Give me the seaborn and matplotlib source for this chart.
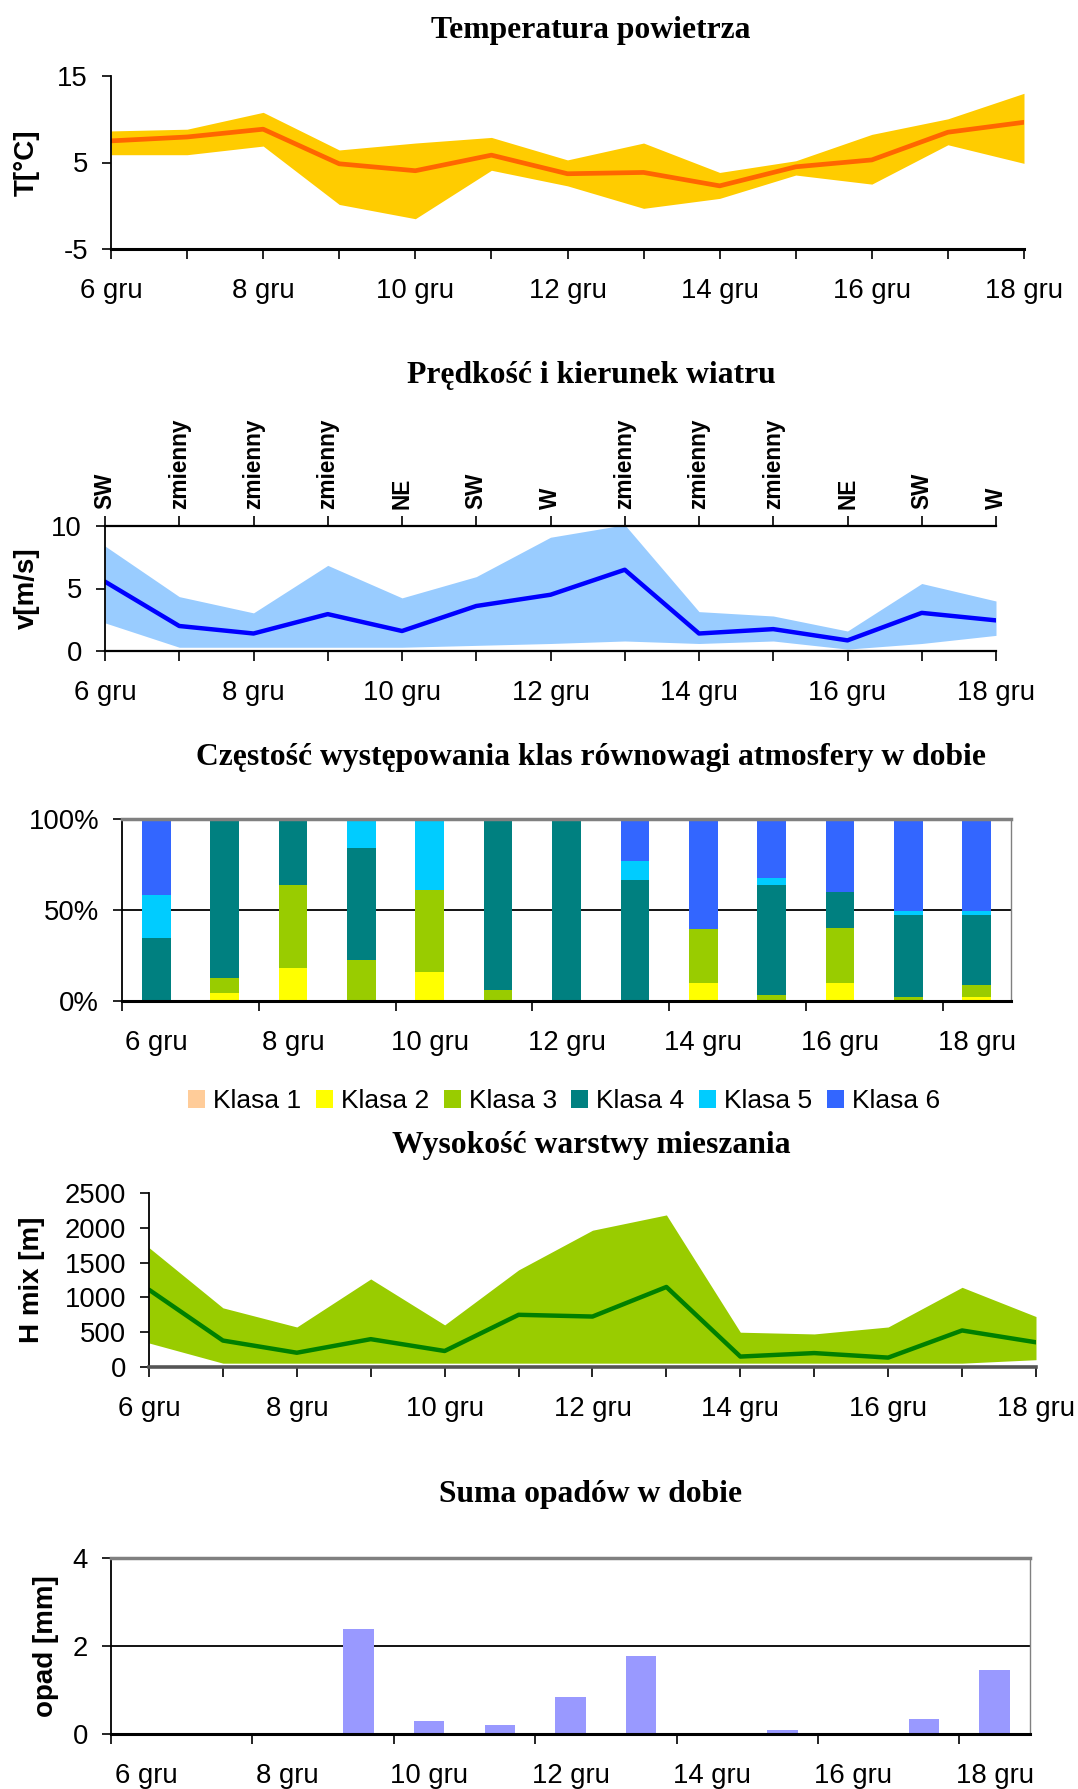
import numpy as np
import matplotlib
matplotlib.use("Agg")
import matplotlib.pyplot as plt
import matplotlib.transforms as mtrans
import seaborn as sns
from matplotlib.patches import Patch

# dane: 6-18 grudnia
days = list(range(6, 19))
day_labels = [f"{d} gru" for d in days]

temp_mean = [7.5, 7.95, 8.85, 4.85, 4.05, 5.85, 3.7, 3.85, 2.3, 4.5, 5.3, 8.5, 9.65]
temp_max = [8.65, 8.85, 10.8, 6.45, 7.25, 7.9, 5.3, 7.25, 3.85, 5.2, 8.25, 10.05, 13.0]
temp_min = [5.9, 5.9, 6.9, 0.15, -1.5, 4.1, 2.3, -0.3, 0.85, 3.55, 2.5, 7.05, 4.9]

wind_mean = [5.55, 2.0, 1.4, 2.95, 1.6, 3.6, 4.5, 6.5, 1.4, 1.75, 0.85, 3.05, 2.45]
wind_max = [8.4, 4.35, 3.05, 6.85, 4.25, 5.95, 9.1, 10.1, 3.15, 2.8, 1.6, 5.4, 4.0]
wind_min = [2.25, 0.3, 0.3, 0.3, 0.3, 0.45, 0.6, 0.8, 0.6, 0.8, 0.15, 0.6, 1.25]
wind_dir = ["SW", "zmienny", "zmienny", "zmienny", "NE", "SW", "W",
            "zmienny", "zmienny", "zmienny", "NE", "SW", "W"]

klasy = ["Klasa 1", "Klasa 2", "Klasa 3", "Klasa 4", "Klasa 5", "Klasa 6"]
klasa1 = [0, 0, 0, 0, 0, 0, 0, 0, 0, 0, 0, 0, 0]
klasa2 = [0, 4.2, 18.4, 0, 15.8, 0, 0, 0, 10.1, 0, 10.1, 0, 2.4]
klasa3 = [0, 8.5, 45.3, 22.8, 45.3, 6.3, 0, 0, 29.3, 3.5, 29.9, 2.4, 6.6]
klasa4 = [34.5, 87.3, 36.3, 61.4, 0, 93.7, 100, 66.5, 0, 60.2, 19.9, 44.7, 38.1]
klasa5 = [23.5, 0, 0, 15.8, 38.9, 0, 0, 10.5, 0, 4.1, 0, 2.6, 2.6]
klasa6 = [42, 0, 0, 0, 0, 0, 0, 23, 60.6, 32.2, 40.1, 50.3, 50.3]

hmix_mean = [1110, 380, 205, 400, 230, 750, 725, 1150, 150, 200, 135, 525, 355]
hmix_max = [1715, 850, 575, 1265, 605, 1395, 1965, 2185, 500, 475, 575, 1145, 725]
hmix_min = [345, 55, 55, 55, 55, 55, 55, 55, 55, 55, 55, 55, 105]

opad = [0, 0, 0, 2.38, 0.30, 0.21, 0.85, 1.78, 0, 0.10, 0, 0.33, 1.46]

class_colors = ["#FFCC99", "#FFFF00", "#99CC00", "#008080", "#00CCFF", "#3366FF"]

sns.set_theme(style="ticks", rc={"axes.edgecolor": "black", "xtick.color": "black",
                                 "ytick.color": "black", "text.color": "black",
                                 "axes.labelcolor": "black"})
plt.rcParams["font.family"] = ["Liberation Sans", "DejaVu Sans"]
plt.rcParams["axes.unicode_minus"] = False

W, H = 1078, 1789
fig = plt.figure(figsize=(W / 100, H / 100), dpi=100)

TICK = 19.8
TITLE_X = 591


def add_ax(left, top, right, bottom):
    return fig.add_axes([left / W, 1 - bottom / H, (right - left) / W, (bottom - top) / H])


def title(y, text):
    fig.text(TITLE_X / W, 1 - y / H, text, ha="center", va="center",
             family="Liberation Serif", weight="bold", size=22.8)


def ylabel(ax, text, x_px):
    ax.set_ylabel(text, fontsize=20, fontweight="bold")
    ax.yaxis.label.set_verticalalignment("center")
    tr = mtrans.blended_transform_factory(fig.transFigure, ax.transAxes)
    ax.yaxis.set_label_coords(x_px / W, 0.5, transform=tr)


def time_axis(ax, ylim, yticks):
    ax.set_xlim(6, 18)
    ax.set_ylim(*ylim)
    ax.set_xticks(days)
    ax.set_xticklabels([l if d % 2 == 0 else "" for d, l in zip(days, day_labels)])
    ax.set_yticks(yticks)
    ax.tick_params(axis="x", length=7, width=1.2, pad=14, labelsize=TICK)
    ax.tick_params(axis="y", length=6.5, width=1.2, pad=10, labelsize=TICK)
    sns.despine(ax=ax)
    ax.spines["left"].set_linewidth(1.3)


def category_axis(ax, ylim, yticks, yticklabels):
    ax.set_xlim(-0.5, 12.5)
    ax.set_ylim(*ylim)
    ax.set_xticks(np.arange(-0.5, 12, 2))
    ax.set_xticklabels([])
    ax.set_xticks(range(0, 13, 2), minor=True)
    ax.set_xticklabels(day_labels[::2], minor=True)
    ax.tick_params(axis="x", which="major", length=7, width=1.2)
    ax.tick_params(axis="x", which="minor", length=0, pad=21, labelsize=TICK)
    ax.set_yticks(yticks)
    ax.set_yticklabels(yticklabels)
    ax.tick_params(axis="y", length=6.5, width=1.2, pad=10, labelsize=TICK)
    ax.axhline(yticks[1], color="black", lw=1.3, zorder=0.5)
    ax.spines["top"].set_color("#808080")
    ax.spines["top"].set_linewidth(2.5)
    ax.spines["right"].set_color("#808080")
    ax.spines["right"].set_linewidth(1)
    ax.spines["bottom"].set_linewidth(2.2)
    ax.spines["left"].set_linewidth(1.3)
    ax.set_xlabel("")


# 1. Temperatura
title(30.5, "Temperatura powietrza")
ax1 = add_ax(111, 76, 1024, 249)
ax1.fill_between(days, temp_min, temp_max, color="#FFCC00", lw=0)
sns.lineplot(x=days, y=temp_mean, color="#FF6600", lw=3.4, ax=ax1)
time_axis(ax1, (-5, 15), [-5, 5, 15])
ax1.spines["bottom"].set_linewidth(2.2)
ylabel(ax1, "T[°C]", 27)

# 2. Wiatr
title(375.5, "Prędkość i kierunek wiatru")
ax2 = add_ax(105, 526, 996, 651)
ax2.fill_between(days, wind_min, wind_max, color="#99CCFF", lw=0)
sns.lineplot(x=days, y=wind_mean, color="#0000FF", lw=3.2, ax=ax2)
time_axis(ax2, (0, 10), [0, 5, 10])
ax2.spines["bottom"].set_linewidth(1.6)
ylabel(ax2, "v[m/s]", 27)
top = ax2.twiny()
top.set_xlim(6, 18)
top.set_xticks(days)
top.set_xticklabels(wind_dir, rotation=90, fontsize=16.3, fontweight="bold")
top.tick_params(axis="x", length=7, width=1.2, pad=5)
for s in ["left", "right", "bottom"]:
    top.spines[s].set_visible(False)
top.spines["top"].set_linewidth(1.6)

# 3. Klasy równowagi
title(757.5, "Częstość występowania klas równowagi atmosfery w dobie")
ax3 = add_ax(122, 819, 1011, 1001)
stack = np.cumsum([klasa1, klasa2, klasa3, klasa4, klasa5, klasa6], axis=0)
for i in reversed(range(6)):
    sns.barplot(x=day_labels, y=stack[i], order=day_labels, color=class_colors[i],
                width=0.42, saturation=1, linewidth=0, ax=ax3)
category_axis(ax3, (0, 100), [0, 50, 100], ["0%", "50%", "100%"])
handles = [Patch(facecolor=c, edgecolor="none") for c in class_colors]
fig.legend(handles, klasy, loc="center", bbox_to_anchor=(564 / W, 1 - 1101.5 / H),
           ncol=6, frameon=False, fontsize=19, handlelength=0.65, handleheight=0.65,
           handletextpad=0.3, columnspacing=0.55)

# 4. Wysokość warstwy mieszania
title(1145.5, "Wysokość warstwy mieszania")
ax4 = add_ax(149, 1193, 1036, 1367)
ax4.fill_between(days, hmix_min, hmix_max, color="#99CC00", lw=0)
sns.lineplot(x=days, y=hmix_mean, color="#008000", lw=3.2, ax=ax4)
time_axis(ax4, (0, 2500), [0, 500, 1000, 1500, 2000, 2500])
ax4.spines["bottom"].set_color("#555555")
ax4.spines["bottom"].set_linewidth(2.6)
ylabel(ax4, "H mix [m]", 32)

# 5. Opady
title(1494.5, "Suma opadów w dobie")
ax5 = add_ax(111, 1558, 1030, 1734)
sns.barplot(x=day_labels, y=opad, order=day_labels, color="#9999FF",
            width=0.43, saturation=1, linewidth=0, ax=ax5)
category_axis(ax5, (0, 4), [0, 2, 4], ["0", "2", "4"])
ylabel(ax5, "opad [mm]", 46)

fig.savefig("out.png", dpi=100)
